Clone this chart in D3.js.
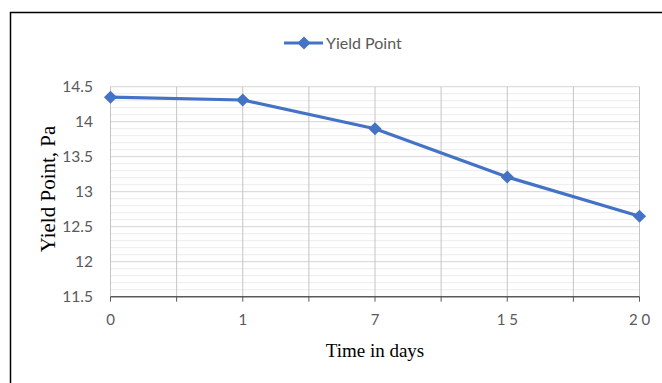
<!DOCTYPE html>
<html><head><meta charset="utf-8">
<script src="https://cdn.jsdelivr.net/npm/d3@7"></script>
<style>body{margin:0;background:#fff}svg{display:block}</style>
</head><body>
<script>
const categories = ["0","1","7","15","20"];
const tickLabels = ["0","1","7","1 5","2 0"];
const yieldPoint = [14.35, 14.31, 13.9, 13.21, 12.65];
const yTicks = [11.5, 12, 12.5, 13, 13.5, 14, 14.5];
const seriesName = "Yield Point";

const W = 662, H = 383;
const svg = d3.select("body").append("svg").attr("width", W).attr("height", H);
svg.append("rect").attr("x",10.5).attr("y",12.5).attr("width",W).attr("height",H).attr("fill","#fff").attr("stroke","#000").attr("stroke-width",1.5);

const m = {l:110.5, r:639.5, t:86.7, b:296.7};
const x = d3.scalePoint().domain(categories).range([m.l, m.r]);
const y = d3.scaleLinear().domain([11.5, 14.5]).range([m.b, m.t]);
const sans = "Lato, 'Open Sans', sans-serif";

// minor horizontal gridlines
const minor = d3.range(115, 146).map(v => v/10).filter(v => Math.abs(v*2 - Math.round(v*2)) > 1e-6);
svg.append("g").selectAll("line").data(minor).join("line")
  .attr("x1", m.l).attr("x2", m.r).attr("y1", d => y(d)).attr("y2", d => y(d))
  .attr("stroke", "#ececec").attr("stroke-width", 1);
// major horizontal gridlines
svg.append("g").selectAll("line").data(yTicks.slice(1)).join("line")
  .attr("x1", m.l).attr("x2", m.r).attr("y1", d => y(d)).attr("y2", d => y(d))
  .attr("stroke", "#d4d4d4").attr("stroke-width", 1);

// vertical gridlines at categories and midpoints
const vpos = [];
categories.forEach((c,i) => { vpos.push(x(c)); if (i < categories.length-1) vpos.push((x(c)+x(categories[i+1]))/2); });
svg.append("g").selectAll("line").data(vpos).join("line")
  .attr("x1", d => d).attr("x2", d => d).attr("y1", m.t).attr("y2", m.b)
  .attr("stroke", "#c4c4c4").attr("stroke-width", 1);

// x axis line and ticks
svg.append("line").attr("x1", m.l).attr("x2", m.r).attr("y1", m.b).attr("y2", m.b)
  .attr("stroke", "#595959").attr("stroke-width", 1.5);
svg.append("g").selectAll("line").data(vpos).join("line")
  .attr("x1", d => d).attr("x2", d => d).attr("y1", m.b).attr("y2", m.b+5)
  .attr("stroke", "#595959").attr("stroke-width", 1);

// tick labels
svg.append("g").selectAll("text").data(categories).join("text")
  .attr("x", d => x(d)).attr("y", 325).attr("text-anchor", "middle")
  .attr("font-family", sans).attr("font-size", 15).attr("fill", "#595959")
  .text((d,i) => tickLabels[i]);
svg.append("g").selectAll("text").data(yTicks).join("text")
  .attr("x", 93).attr("y", d => y(d)).attr("dy", "0.35em").attr("text-anchor", "end")
  .attr("font-family", sans).attr("font-size", 15.5).attr("fill", "#595959")
  .text(d => d);

// line
const blue = "#4472C4";
const line = d3.line().x((d,i) => x(categories[i])).y(d => y(d));
svg.append("path").datum(yieldPoint).attr("d", line).attr("fill","none")
  .attr("stroke", blue).attr("stroke-width", 3.2).attr("stroke-linejoin","round");
const diamond = d3.symbol().type(d3.symbolDiamond2).size(110);
svg.append("g").selectAll("path").data(yieldPoint).join("path")
  .attr("d", diamond).attr("transform", (d,i) => `translate(${x(categories[i])},${y(d)})`)
  .attr("fill", blue);

// legend
svg.append("line").attr("x1", 284).attr("x2", 323).attr("y1", 43).attr("y2", 43)
  .attr("stroke", blue).attr("stroke-width", 3.2);
svg.append("path").attr("d", diamond).attr("transform", "translate(304,43)").attr("fill", blue);
svg.append("text").attr("x", 326).attr("y", 43).attr("dy","0.35em")
  .attr("font-family", sans).attr("font-size", 16).attr("fill", "#595959")
  .text(seriesName);

// axis titles
svg.append("text").attr("x", 375).attr("y", 357).attr("text-anchor","middle")
  .attr("font-family", "'Liberation Serif', 'Times New Roman', serif").attr("font-size", 19).attr("fill", "#000")
  .text("Time in days");
svg.append("text").attr("transform", "translate(55,189) rotate(-90)").attr("text-anchor","middle")
  .attr("font-family", "'Liberation Serif', 'Times New Roman', serif").attr("font-size", 21).attr("fill", "#000")
  .text("Yield Point, Pa");
</script>
</body></html>
